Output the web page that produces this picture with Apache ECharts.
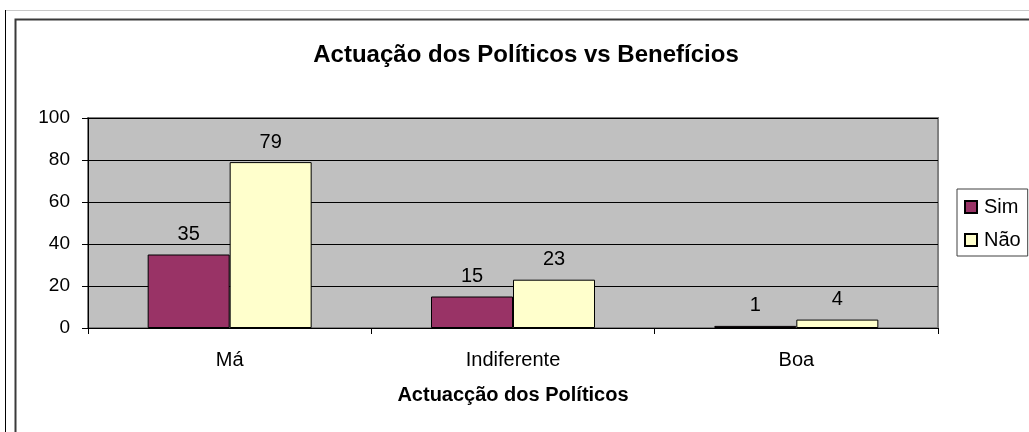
<!DOCTYPE html>
<html>
<head>
<meta charset="utf-8">
<script src="https://cdn.jsdelivr.net/npm/echarts@6/dist/echarts.min.js"></script>
<style>
  html, body { margin: 0; padding: 0; background: #ffffff; }
  #chart { width: 1029px; height: 432px; }
</style>
</head>
<body>
<div id="chart"></div>
<script>
// Avaliação da actuação dos políticos, separada por quem recebeu benefícios
const categories = ['Má', 'Indiferente', 'Boa'];
const simValues = [35, 15, 1];
const naoValues = [79, 23, 4];
const yTicks = [0, 20, 40, 60, 80, 100];

const FONT = "'Liberation Sans', Arial, Helvetica, sans-serif";

const chart = echarts.init(document.getElementById('chart'), null, { renderer: 'canvas' });

chart.setOption({
  animation: false,
  backgroundColor: '#ffffff',
  textStyle: { fontFamily: FONT, color: '#000' },
  title: {
    text: 'Actuação dos Políticos vs Benefícios',
    left: 521,
    top: 38,
    textAlign: 'center',
    textStyle: { fontFamily: FONT, fontSize: 24, fontWeight: 'bold', color: '#000' }
  },
  graphic: [
    // page frame
    { type: 'line', shape: { x1: 5, y1: 10.5, x2: 1029, y2: 10.5 }, style: { stroke: '#c8c8c8', lineWidth: 1 }, silent: true },
    { type: 'line', shape: { x1: 5.5, y1: 10, x2: 5.5, y2: 432 }, style: { stroke: '#000', lineWidth: 1 }, silent: true },
    // chart area frame
    { type: 'rect', shape: { x: 15.5, y: 19.5, width: 1100, height: 500 }, style: { fill: null, stroke: '#3a3a3a', lineWidth: 2 }, silent: true }
  ],
  legend: {
    orient: 'vertical',
    left: 957,
    top: 189,
    padding: [8, 7, 6, 7],
    itemGap: 13,
    itemWidth: 12,
    itemHeight: 12,
    icon: 'rect',
    borderColor: '#404040',
    borderWidth: 1,
    backgroundColor: '#ffffff',
    textStyle: { fontFamily: FONT, fontSize: 20, color: '#000', padding: [0, 0, 0, 2] },
    data: ['Sim', 'Não']
  },
  grid: {
    left: 88,
    right: 91,
    top: 118,
    bottom: 104,
    show: true,
    backgroundColor: '#C0C0C0',
    borderColor: '#808080',
    borderWidth: 2
  },
  xAxis: {
    type: 'category',
    data: categories,
    name: 'Actuacção dos Políticos',
    nameLocation: 'middle',
    nameGap: 57,
    nameTextStyle: { fontFamily: FONT, fontSize: 20, fontWeight: 'bold', color: '#000' },
    axisLine: { lineStyle: { color: '#000', width: 1 } },
    axisTick: { show: true, length: 6, lineStyle: { color: '#000' } },
    axisLabel: { fontFamily: FONT, fontSize: 20, color: '#000', margin: 22 }
  },
  yAxis: {
    type: 'value',
    min: yTicks[0],
    max: yTicks[yTicks.length - 1],
    interval: yTicks[1] - yTicks[0],
    axisLine: { show: true, lineStyle: { color: '#000', width: 1 } },
    axisTick: { show: true, length: 6, lineStyle: { color: '#000' } },
    axisLabel: { fontFamily: FONT, fontSize: 19, color: '#000', margin: 18 },
    splitLine: { show: true, lineStyle: { color: '#000', width: 1 } }
  },
  series: [
    {
      name: 'Sim',
      type: 'bar',
      data: simValues,
      barWidth: 82,
      barGap: '0%',
      itemStyle: { color: '#993366', borderColor: '#000', borderWidth: 1 },
      label: { show: true, position: 'top', distance: 10, fontFamily: FONT, fontSize: 20, color: '#000' }
    },
    {
      name: 'Não',
      type: 'bar',
      data: naoValues,
      barWidth: 82,
      barGap: '0%',
      itemStyle: { color: '#FFFFCC', borderColor: '#000', borderWidth: 1 },
      label: { show: true, position: 'top', distance: 10, fontFamily: FONT, fontSize: 20, color: '#000' }
    }
  ]
});
</script>
</body>
</html>
